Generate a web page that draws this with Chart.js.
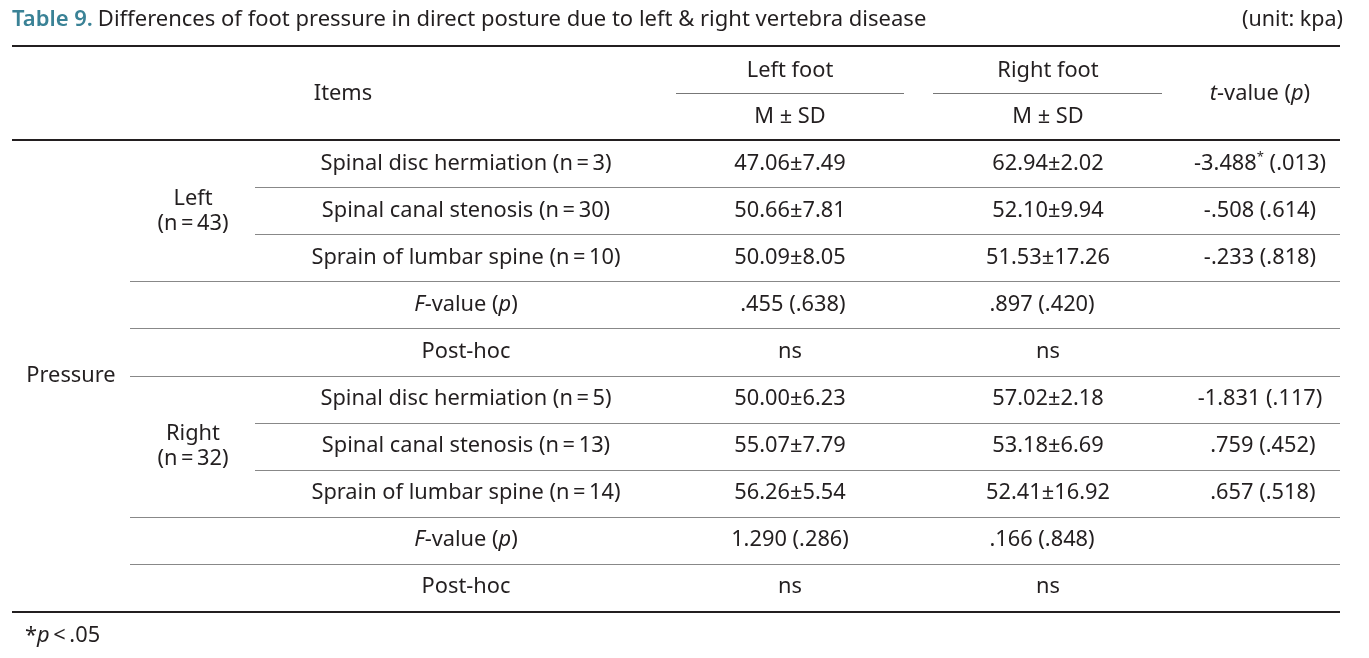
<!DOCTYPE html>
<html>
<head>
<meta charset="utf-8">
<script src="https://cdn.jsdelivr.net/npm/chart.js@4/dist/chart.umd.min.js"></script>
<style>
  html, body { margin: 0; padding: 0; background: #fff; }
  canvas { display: block; }
</style>
</head>
<body>
<canvas id="table9" width="1369" height="658"></canvas>
<script>
// table contents (text marked with _italic_ and ^superscript^)
const titleLabel = "Table 9.";
const titleText = "Differences of foot pressure in direct posture due to left & right vertebra disease";
const unitText = "(unit: kpa)";
const headerItems = "Items";
const headerFeet = ["Left foot", "Right foot"];
const headerStat = "M ± SD";
const headerT = "_t_-value (_p_)";
const measureLabel = "Pressure";
const groupLabels = [["Left", "(n\u2009=\u200943)"], ["Right", "(n\u2009=\u200932)"]];
const itemLabels = [
  "Spinal disc hermiation (n\u2009=\u20093)",
  "Spinal canal stenosis (n\u2009=\u200930)",
  "Sprain of lumbar spine (n\u2009=\u200910)",
  "Spinal disc hermiation (n\u2009=\u20095)",
  "Spinal canal stenosis (n\u2009=\u200913)",
  "Sprain of lumbar spine (n\u2009=\u200914)"
];
const leftFootMSD = ["47.06±7.49", "50.66±7.81", "50.09±8.05", "50.00±6.23", "55.07±7.79", "56.26±5.54"];
const rightFootMSD = ["62.94±2.02", "52.10±9.94", "51.53±17.26", "57.02±2.18", "53.18±6.69", "52.41±16.92"];
const tValues = ["-3.488^*^ (.013)", "-.508 (.614)", "-.233 (.818)", "-1.831 (.117)", " .759 (.452)", " .657 (.518)"];
const fLabel = "_F_-value (_p_)";
const fLeftFoot = [" .455 (.638)", "1.290 (.286)"];
const fRightFoot = [".897 (.420)", ".166 (.848)"];
const postHocLabel = "Post-hoc";
const postHocLeft = ["ns", "ns"];
const postHocRight = ["ns", "ns"];
const footnote = "*_p_\u2009<\u2009.05";

// layout (pixel units of the hidden scales)
const col = { measure: 71, group: 193, item: 466, itemHead: 343, left: 790, right: 1048, t: 1260 };
const rowTop = 164, rowStep = 47;
const font = '"Noto Sans", sans-serif';
const ink = "#231f20";
const bodySize = 21.8;

const cells = [];
function cell(x, y, text, opts) { cells.push(Object.assign({ x: x, y: y, text: text }, opts || {})); }

cell(12, 20, titleLabel, { align: "left", bold: true, color: "#3a8296", size: 22 });
cell(12, 20, titleText, { align: "left", after: titleLabel, size: 22 });
cell(1343, 20, unitText, { align: "right", size: 21.5 });
cell(col.itemHead, 94, headerItems);
cell(col.left, 71, headerFeet[0]);
cell(col.right, 71, headerFeet[1]);
cell(col.left, 117, headerStat);
cell(col.right, 117, headerStat);
cell(col.t, 94, headerT);
cell(col.measure, rowTop + rowStep * 4.5, measureLabel);

for (let g = 0; g < 2; g++) {
  const base = g * 5;
  const mid = rowTop + rowStep * (base + 1);
  cell(col.group, mid - 12, groupLabels[g][0]);
  cell(col.group, mid + 13, groupLabels[g][1]);
  for (let k = 0; k < 3; k++) {
    const i = g * 3 + k;
    const y = rowTop + rowStep * (base + k);
    cell(col.item, y, itemLabels[i]);
    cell(col.left, y, leftFootMSD[i]);
    cell(col.right, y, rightFootMSD[i]);
    cell(col.t, y, tValues[i]);
  }
  const fy = rowTop + rowStep * (base + 3);
  cell(col.item, fy, fLabel);
  cell(col.left, fy, fLeftFoot[g]);
  cell(col.right, fy, fRightFoot[g], { shift: -6 });
  const py = rowTop + rowStep * (base + 4);
  cell(col.item, py, postHocLabel);
  cell(col.left, py, postHocLeft[g]);
  cell(col.right, py, postHocRight[g]);
}
cell(25, 636, footnote, { align: "left" });

// horizontal rules: y, x0, x1, width, colour
const rules = [
  [46, 12, 1340, 2.2, ink],
  [93, 676, 904, 1, "#777"],
  [93, 933, 1162, 1, "#777"],
  [140, 12, 1340, 2.2, ink],
  [187, 255, 1340, 1.2, "#888"],
  [234, 255, 1340, 1.2, "#888"],
  [281, 130, 1340, 1.2, "#888"],
  [328, 130, 1340, 1.2, "#888"],
  [376, 130, 1340, 1.2, "#888"],
  [423, 255, 1340, 1.2, "#888"],
  [470, 255, 1340, 1.2, "#888"],
  [517, 130, 1340, 1.2, "#888"],
  [564, 130, 1340, 1.2, "#888"],
  [612, 12, 1340, 2.2, ink]
];

function parseRich(text) {
  const segs = [];
  let mode = "n", buf = "";
  for (const ch of text) {
    if (ch === "_" || ch === "^") {
      if (buf) segs.push({ t: buf, m: mode });
      buf = "";
      const m = ch === "_" ? "i" : "s";
      mode = mode === m ? "n" : m;
    } else buf += ch;
  }
  if (buf) segs.push({ t: buf, m: mode });
  return segs;
}

function segFont(c, m) {
  const size = c.size || bodySize;
  if (m === "s") return Math.round(size * 0.6) + "px " + font;
  return (m === "i" ? "italic " : "") + (c.bold ? "600 " : "") + size + "px " + font;
}

const tablePlugin = {
  id: "tablePlugin",
  beforeDatasetsDraw(chart) {
    const ctx = chart.ctx, xs = chart.scales.x, ys = chart.scales.y;
    ctx.save();
    rules.forEach(r => {
      const y = Math.round(ys.getPixelForValue(r[0])) + (r[3] < 2 ? 0.5 : 0);
      ctx.strokeStyle = r[4];
      ctx.lineWidth = r[3];
      ctx.beginPath();
      ctx.moveTo(xs.getPixelForValue(r[1]), y);
      ctx.lineTo(xs.getPixelForValue(r[2]), y);
      ctx.stroke();
    });
    ctx.restore();
  },
  afterDatasetsDraw(chart) {
    const ctx = chart.ctx;
    const meta = chart.getDatasetMeta(0);
    const offsets = {};
    ctx.save();
    ctx.textBaseline = "middle";
    meta.data.forEach((pt, i) => {
      const c = chart.data.datasets[0].data[i];
      const segs = parseRich(c.text);
      let w = 0;
      segs.forEach(s => { ctx.font = segFont(c, s.m); s.w = ctx.measureText(s.t).width; w += s.w; });
      let x = pt.x;
      if (c.align === "right") x -= w;
      else if (c.align !== "left") x -= w / 2;
      if (c.after) x += offsets[c.after] + 5;
      if (c.shift) x += c.shift;
      offsets[c.text] = w;
      segs.forEach(s => {
        ctx.font = segFont(c, s.m);
        ctx.fillStyle = c.color || ink;
        ctx.textAlign = "left";
        ctx.fillText(s.t, x, s.m === "s" ? pt.y - 7 : pt.y);
        x += s.w;
      });
    });
    ctx.restore();
  }
};

new Chart(document.getElementById("table9"), {
  type: "scatter",
  data: {
    datasets: [{
      data: cells,
      pointRadius: 0,
      pointHoverRadius: 0
    }]
  },
  options: {
    responsive: false,
    animation: false,
    devicePixelRatio: 1,
    layout: { padding: 0 },
    plugins: { legend: { display: false }, tooltip: { enabled: false } },
    scales: {
      x: { type: "linear", display: false, min: 0, max: 1369 },
      y: { type: "linear", display: false, min: 0, max: 658, reverse: true }
    }
  },
  plugins: [tablePlugin]
});
</script>
</body>
</html>
